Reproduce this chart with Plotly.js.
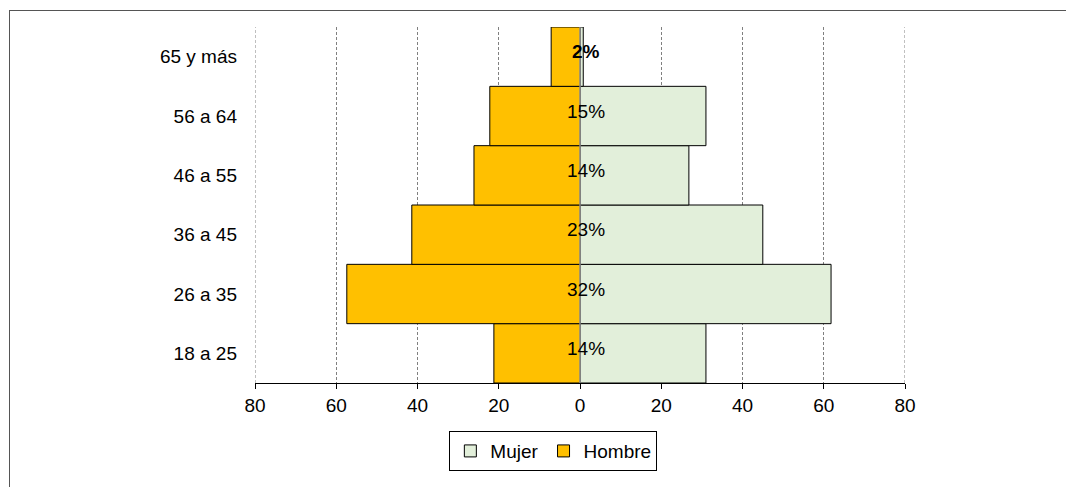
<!DOCTYPE html>
<html><head><meta charset="utf-8">
<script src="https://cdn.plot.ly/plotly-3.0.1.min.js"></script>
<style>
html,body{margin:0;padding:0;background:#fff;overflow:hidden;}
#frame{position:absolute;left:9px;top:10px;width:1200px;height:600px;border:1px solid #555;box-sizing:border-box;}
#chart{position:absolute;left:0;top:0;width:1066px;height:487px;}
</style></head>
<body>
<div id="frame"></div>
<div id="chart"></div>
<script>
const categories = ["18 a 25","26 a 35","36 a 45","46 a 55","56 a 64","65 y más"];
const hombre = [21.2, 57.4, 41.4, 26.1, 22.2, 7.1];
const mujer = [31.0, 61.8, 45.0, 26.8, 31.0, 0.8];
const pctLabels = ["14%","32%","23%","14%","15%","2%"];
const tickVals = [-80,-60,-40,-20,0,20,40,60,80];
const tickText = ["80","60","40","20","0","20","40","60","80"];

const font = "Liberation Sans, Arial, sans-serif";
const traces = [
  {type:'bar', orientation:'h', name:'Mujer', y:categories, x:mujer,
   marker:{color:'#E2EFDA', line:{color:'#000', width:1}}, hoverinfo:'skip'},
  {type:'bar', orientation:'h', name:'Hombre', y:categories, x:hombre.map(v=>-v),
   marker:{color:'#FFC000', line:{color:'#000', width:1}}, hoverinfo:'skip'}
];
const annotations = categories.map((c,i)=>({
  x:1.5, y:c, xref:'x', yref:'y', text: pctLabels[i], showarrow:false, yshift:5,
  font:{family:font, size:19, color:'#000', weight: i===5 ? 'bold' : 'normal'}
}));
const gridStyle = {color:'#808080', width:1, dash:'3px,2px'};
const edgeGrid = [tickVals[0], tickVals[tickVals.length-1]].map(v=>({
  type:'line', xref:'x', yref:'paper', x0:v, x1:v, y0:0, y1:1, line:gridStyle, layer:'below'
}));
const layout = {
  width:1066, height:487,
  margin:{l:255, r:161, t:27, b:104},
  paper_bgcolor:'rgba(0,0,0,0)', plot_bgcolor:'rgba(0,0,0,0)',
  barmode:'overlay', bargap:0,
  font:{family:font, size:19, color:'#000'},
  xaxis:{range:[-80,80], tickvals:tickVals, ticktext:tickText, showgrid:true,
    gridcolor:'#808080', griddash:'3px,2px', gridwidth:1, zeroline:false,
    showline:true, linecolor:'#000', linewidth:1, ticks:'outside', ticklen:5,
    tickcolor:'#000', tickfont:{family:font, size:19}, fixedrange:true},
  yaxis:{type:'category', categoryorder:'array', categoryarray:categories,
    showgrid:false, zeroline:false, showline:false, ticks:'',
    ticklabelstandoff:17, tickfont:{family:font, size:19}, fixedrange:true},
  shapes: edgeGrid.concat([{type:'line', xref:'x', yref:'paper', x0:0, x1:0, y0:0, y1:1,
    line:{color:'#c8c8c8', width:1}, layer:'above'}]),
  annotations: annotations,
  showlegend:true,
  legend:{orientation:'h', x:0.459, xanchor:'center', y:-0.135, yanchor:'top',
    bordercolor:'#000', borderwidth:1, bgcolor:'#fff', traceorder:'normal',
    font:{family:font, size:19}, itemwidth:30}
};
Plotly.newPlot('chart', traces, layout, {displayModeBar:false, staticPlot:true});
</script>
</body></html>
